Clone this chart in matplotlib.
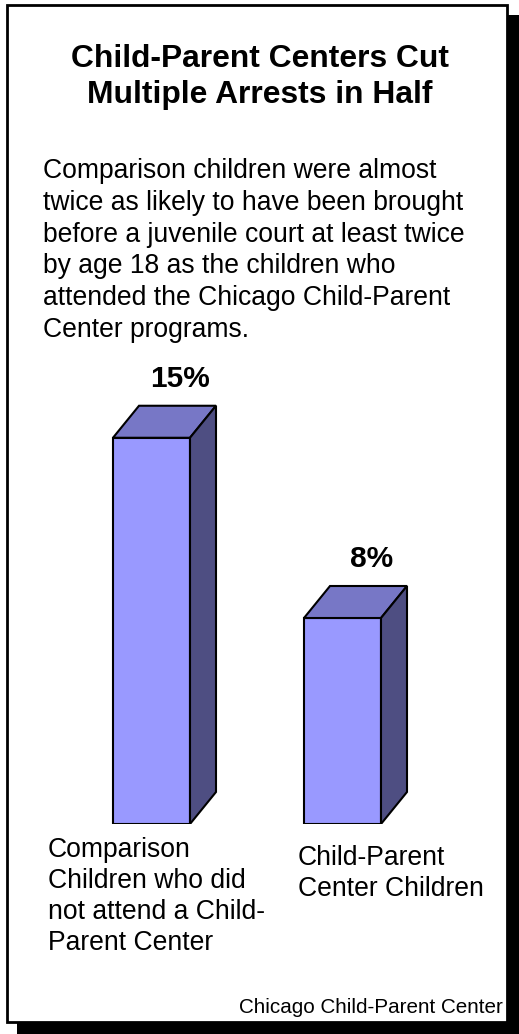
import matplotlib
matplotlib.use("Agg")
import matplotlib.pyplot as plt
from matplotlib.patches import Polygon, Rectangle

plt.rcParams['font.family'] = ['Liberation Sans', 'DejaVu Sans']

# data
categories = ["Comparison\nChildren who did\nnot attend a Child-\nParent Center",
              "Child-Parent\nCenter Children"]
values = [15, 8]
value_labels = ["15%", "8%"]
title_lines = ["Child-Parent Centers Cut", "Multiple Arrests in Half"]
body_lines = ["Comparison children were almost",
              "twice as likely to have been brought",
              "before a juvenile court at least twice",
              "by age 18 as the children who",
              "attended the Chicago Child-Parent",
              "Center programs."]
source = "Chicago Child-Parent Center"

W, H = 519, 1034
fig = plt.figure(figsize=(W / 100, H / 100), dpi=100)
fig.patch.set_facecolor("white")

# background axes in pixel coords for frame + text
bg = fig.add_axes([0, 0, 1, 1])
bg.set_xlim(0, W)
bg.set_ylim(H, 0)
bg.axis("off")
bg.add_patch(Rectangle((17, 15), W - 17, H - 15, facecolor="black", edgecolor="none"))
bg.add_patch(Rectangle((7, 5), 500, 1017, facecolor="white", edgecolor="black", lw=2))

for i, line in enumerate(title_lines):
    bg.text(260, 67 + 36 * i, line, ha="center", va="baseline",
            fontsize=22.9, fontweight="bold")
for i, line in enumerate(body_lines):
    bg.text(43, 178 + 31.8 * i, line, ha="left", va="baseline", fontsize=19.1)
bg.text(503, 1013, source, ha="right", va="baseline", fontsize=14.9)

# bar axes: bottom at y=824 px, 25.75 px per percent
bottom_px, top_px = 824, 100
ppu = 25.75
ax = fig.add_axes([0, 1 - bottom_px / H, 1, (bottom_px - top_px) / H])
ax.set_ylim(0, (bottom_px - top_px) / ppu)
unit = 191.0
ax.set_xlim(-151.5 / unit, (W - 151.5) / unit)
ax.axis("off")

xs = list(range(len(values)))
w = 77 / unit
dx = 26 / unit
dy = 32 / ppu
front, top, side = "#9999FF", "#7777C6", "#4E4E82"
ax.bar(xs, values, width=w, color=front, edgecolor="black", linewidth=1.5, zorder=2)
for x, v, lab in zip(xs, values, value_labels):
    l, r = x - w / 2, x + w / 2
    ax.add_patch(Polygon([(l, v), (r, v), (r + dx, v + dy), (l + dx, v + dy)],
                         closed=True, facecolor=top, edgecolor="black", lw=1.5, zorder=3))
    ax.add_patch(Polygon([(r, 0), (r + dx, dy), (r + dx, v + dy), (r, v)],
                         closed=True, facecolor=side, edgecolor="black", lw=1.5, zorder=3))
    ax.text(x + 29 / unit, v + dy + 19 / ppu, lab, ha="center", va="baseline",
            fontsize=21.5, fontweight="bold")

# category labels
cat_pos = [(48, 857), (298, 865)]
for (cx, cy), cat in zip(cat_pos, categories):
    for j, line in enumerate(cat.split("\n")):
        bg.text(cx, cy + 31 * j, line, ha="left", va="baseline", fontsize=19.1)

fig.savefig("out.png", dpi=100, facecolor="white")
